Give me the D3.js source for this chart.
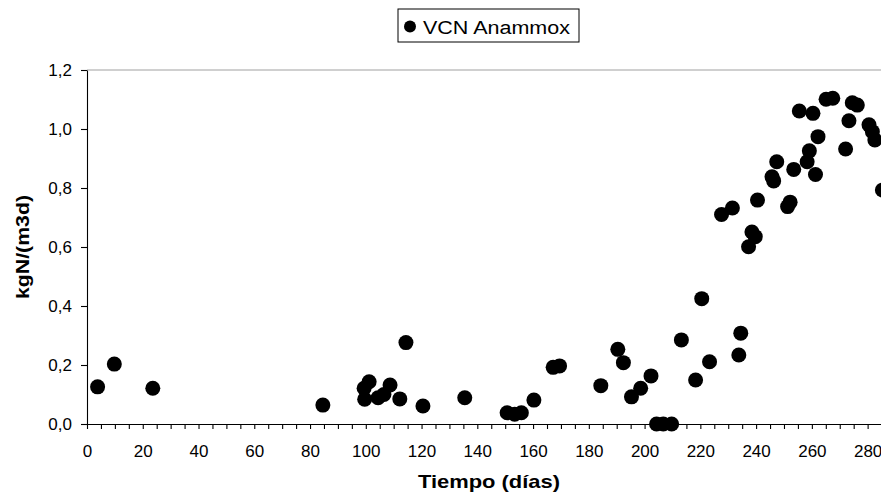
<!DOCTYPE html>
<html lang="es">
<head>
  <meta charset="UTF-8" />
  <title>VCN Anammox</title>
  <script src="https://cdn.jsdelivr.net/npm/d3@7"></script>
  <style>
    body {
      margin: 0;
      background: white;
      font-family: Arial, "Liberation Sans", sans-serif;
    }
    .tick text {
      font-size: 17px;
      fill: black;
    }
    .axis-title {
      font-size: 19px;
      font-weight: bold;
    }
  </style>
</head>
<body>
  <div id="chart"></div>

  <script>
    // Tiempo (días) de cada medida
    const days = [
      3.8, 9.8, 23.6, 84.6, 99.6, 99.4, 101.2, 104.4, 106.5, 108.7,
      112.2, 114.4, 120.5, 135.5, 150.7, 153.4, 155.8, 160.3, 167.2, 169.5,
      184.3, 190.4, 192.4, 195.3, 198.6, 202.3, 204.3, 206.7, 209.7, 213.2,
      218.3, 220.5, 223.3, 227.6, 231.5, 233.8, 234.5, 237.3, 238.5, 239.7,
      240.5, 245.7, 246.3, 247.4, 251.3, 252.2, 253.5, 255.5, 258.3, 259.1,
      260.4, 261.3, 262.2, 265.1, 267.5, 272.1, 273.3, 274.5, 276.3, 280.5,
      281.7, 282.6, 285.3
    ];
    // VCN Anammox, kgN/(m3d)
    const vcn = [
      0.126, 0.203, 0.121, 0.064, 0.084, 0.121, 0.143, 0.089, 0.100, 0.132,
      0.085, 0.276, 0.061, 0.089, 0.038, 0.033, 0.038, 0.081, 0.192, 0.197,
      0.130, 0.253, 0.208, 0.092, 0.121, 0.163, 0.0, 0.0, 0.0, 0.285,
      0.149, 0.425, 0.211, 0.710, 0.732, 0.234, 0.308, 0.601, 0.651, 0.635,
      0.759, 0.838, 0.824, 0.889, 0.737, 0.752, 0.863, 1.061, 0.889, 0.926,
      1.053, 0.846, 0.974, 1.101, 1.104, 0.932, 1.028, 1.089, 1.081, 1.014,
      0.991, 0.963, 0.793
    ];

    const xTicks = d3.range(0, 295, 5);
    const yTicks = [0, 0.2, 0.4, 0.6, 0.8, 1.0, 1.2];
    const seriesName = "VCN Anammox";

    const width = 881;
    const height = 495;
    // el área de trazado sigue un poco más allá del borde derecho (recortada)
    const plotLeft = 87, plotTop = 70, plotBottom = 424, plotRight = 895.5;

    const svg = d3.select("#chart")
      .append("svg")
      .attr("width", width)
      .attr("height", height);

    const x = d3.scaleLinear()
      .domain([0, 290])
      .range([plotLeft, plotRight]);

    const y = d3.scaleLinear()
      .domain([0, 1.2])
      .range([plotBottom, plotTop]);

    // borde superior del área de trazado
    svg.append("line")
      .attr("x1", plotLeft).attr("x2", plotRight)
      .attr("y1", plotTop).attr("y2", plotTop)
      .attr("stroke", "#a0a0a0")
      .attr("stroke-width", 1);

    const xAxis = d3.axisBottom(x)
      .tickValues(xTicks)
      .tickSize(5)
      .tickSizeOuter(0)
      .tickFormat(d => (d % 20 === 0 ? d : ""));

    const gx = svg.append("g")
      .attr("transform", `translate(0,${plotBottom})`)
      .call(xAxis);
    gx.selectAll("text").attr("y", 21);

    const yAxis = d3.axisLeft(y)
      .tickValues(yTicks)
      .tickSize(6)
      .tickSizeOuter(0)
      .tickFormat(d => d3.format(".1f")(d).replace(".", ","));

    const gy = svg.append("g")
      .attr("transform", `translate(${plotLeft},0)`)
      .call(yAxis);
    gy.selectAll("text").attr("x", -15);

    svg.selectAll(".domain, .tick line")
      .attr("stroke", "black")
      .attr("stroke-width", 1.1);

    // puntos
    svg.append("g")
      .selectAll("circle")
      .data(days)
      .join("circle")
      .attr("cx", d => x(d))
      .attr("cy", (d, i) => y(vcn[i]))
      .attr("r", 7.5)
      .attr("fill", "black");

    // títulos de ejes
    svg.append("text")
      .attr("class", "axis-title")
      .attr("x", 489)
      .attr("y", 488)
      .attr("text-anchor", "middle")
      .attr("textLength", 142)
      .attr("lengthAdjust", "spacingAndGlyphs")
      .text("Tiempo (días)");

    svg.append("text")
      .attr("class", "axis-title")
      .attr("transform", "translate(29,247) rotate(-90)")
      .attr("text-anchor", "middle")
      .attr("textLength", 104)
      .attr("lengthAdjust", "spacingAndGlyphs")
      .text("kgN/(m3d)");

    // leyenda
    const legend = svg.append("g").attr("transform", "translate(398,9)");
    legend.append("rect")
      .attr("width", 181)
      .attr("height", 33)
      .attr("fill", "white")
      .attr("stroke", "black")
      .attr("stroke-width", 1);
    legend.append("circle")
      .attr("cx", 12)
      .attr("cy", 17.5)
      .attr("r", 6)
      .attr("fill", "black");
    legend.append("text")
      .attr("x", 25)
      .attr("y", 24.5)
      .attr("font-size", 18)
      .attr("textLength", 147)
      .attr("lengthAdjust", "spacingAndGlyphs")
      .text(seriesName);
  </script>
</body>
</html>
